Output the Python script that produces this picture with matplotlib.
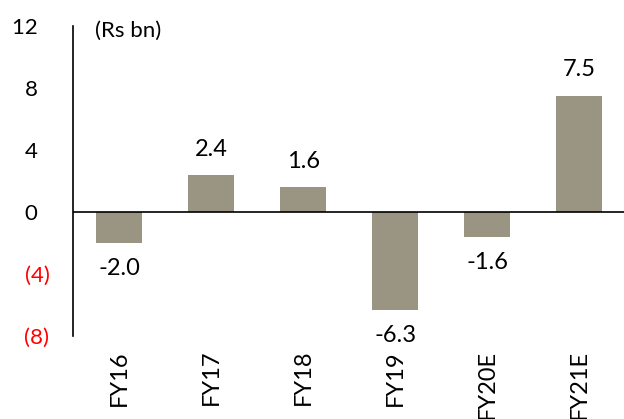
import numpy as np
import matplotlib
matplotlib.use("Agg")
import matplotlib.pyplot as plt

plt.rcParams['font.family'] = ['Lato', 'DejaVu Sans']

# Data
years = ["FY16", "FY17", "FY18", "FY19", "FY20E", "FY21E"]
values = [-2.0, 2.4, 1.6, -6.3, -1.6, 7.5]
yticks = [-8, -4, 0, 4, 8, 12]

BAR_COLOR = "#9a9482"

fig = plt.figure(figsize=(6.24, 4.19), dpi=100)
ax = fig.add_axes([0.117, 0.198, 0.885, 0.740])

x = np.arange(len(years))
ax.bar(x, values, width=0.5, color=BAR_COLOR)

# Value labels above positive bars, below negative ones
for xi, v in zip(x, values):
    if v >= 0:
        ax.annotate("%.1f" % v, (xi, v), xytext=(0, 11), textcoords="offset points",
                    ha="center", va="bottom", fontsize=17)
    else:
        ax.annotate("%.1f" % v, (xi, v), xytext=(0, -11), textcoords="offset points",
                    ha="center", va="top", fontsize=17)

ax.set_xlim(-0.5, len(years) - 0.5)
ax.set_ylim(-8, 12)

# Zero line
ax.axhline(0, color="black", linewidth=1.2)

# Axes styling
for side in ["top", "right", "bottom"]:
    ax.spines[side].set_visible(False)
ax.spines["left"].set_linewidth(1.2)

ax.set_yticks(yticks)
ylabels = []
for t in yticks:
    if t < 0:
        ylabels.append("(%d)" % abs(t))
    else:
        ylabels.append("%d  " % t)
ax.set_yticklabels(ylabels, fontsize=16)
for lbl, t in zip(ax.get_yticklabels(), yticks):
    if t < 0:
        lbl.set_color("red")
ax.tick_params(axis="y", length=0, pad=17)

ax.set_xticks(x)
ax.set_xticklabels(years, rotation=90, fontsize=17, va="top")
ax.tick_params(axis="x", length=0, pad=10)

ax.text(0.04, 0.985, "(Rs bn)", transform=ax.transAxes, ha="left", va="center", fontsize=16)

fig.savefig("out.png", dpi=100)
